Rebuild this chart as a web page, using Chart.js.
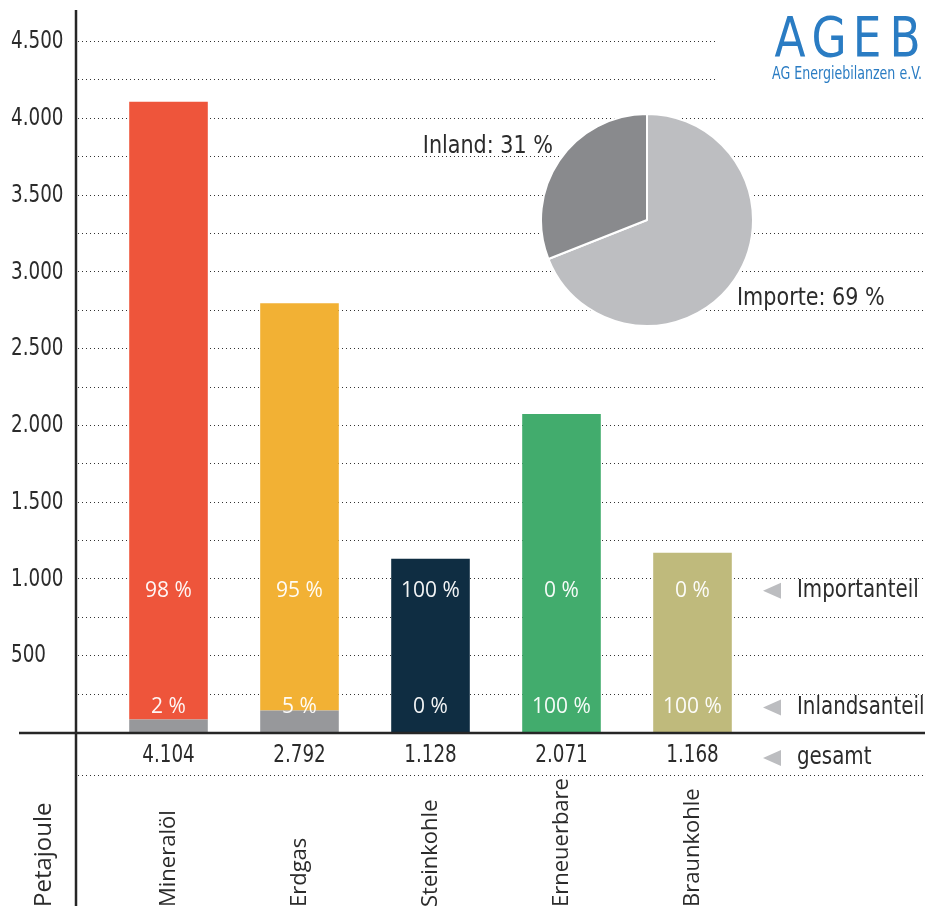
<!DOCTYPE html>
<html>
<head>
<meta charset="utf-8">
<script src="https://cdn.jsdelivr.net/npm/chart.js@4.4.1/dist/chart.umd.min.js"></script>
<style>
    html, body { margin: 0; padding: 0; background: #fff; }
    #wrap { position: relative; width: 925px; height: 906px; overflow: hidden; }
    #bar-chart { position: absolute; left: 0; top: 0; }
    #pie-box { position: absolute; left: 540px; top: 113px; width: 214px; height: 214px; }
</style>
</head>
<body>
<div id="wrap">
    <canvas id="bar-chart" width="925" height="906"></canvas>
    <div id="pie-box"><canvas id="pie-chart" width="214" height="214"></canvas></div>
</div>
<script>
// Primärenergie (Petajoule), Anteile Import / Inland
const categories = ['Mineralöl', 'Erdgas', 'Steinkohle', 'Erneuerbare', 'Braunkohle'];
const totals = [4104, 2792, 1128, 2071, 1168];
const importShare = [98, 95, 100, 0, 0];
const inlandShare = [2, 5, 0, 100, 100];
const yTicks = [500, 1000, 1500, 2000, 2500, 3000, 3500, 4000, 4500];
const yTickLabels = ['500', '1.000', '1.500', '2.000', '2.500', '3.000', '3.500', '4.000', '4.500'];
const pieLabels = ['Importe', 'Inland'];
const pieValues = [69, 31];

const barColors = ['#ee553b', '#f2b134', '#0f2d42', '#42ac6d', '#bfba7c'];
const inlandGrey = '#97989b';
const COND = '"DejaVu Sans Condensed", "DejaVu Sans", sans-serif';
const HUMAN = '"Open Sans", "Noto Sans", sans-serif';
const TEXT = '#2b2b2b';

const importValues = totals.map((t, i) => t * importShare[i] / 100);
const inlandValues = totals.map((t, i) => t * inlandShare[i] / 100);
// inland part is grey only where there is also an import part
const inlandColors = barColors.map((c, i) => importShare[i] > 0 ? inlandGrey : c);

function dotted(ctx, x1, x2, y) {
    ctx.save();
    ctx.strokeStyle = '#333';
    ctx.lineWidth = 1;
    ctx.setLineDash([1, 3]);
    ctx.beginPath();
    ctx.moveTo(x1, Math.round(y) + 0.5);
    ctx.lineTo(x2, Math.round(y) + 0.5);
    ctx.stroke();
    ctx.restore();
}

// squeezed text, the original uses a narrow DIN-like face
function sText(ctx, txt, x, y, sx, align) {
    ctx.save();
    ctx.translate(x, y);
    ctx.scale(sx, 1);
    ctx.textAlign = align;
    ctx.fillText(txt, 0, 0);
    ctx.restore();
}

function triangle(ctx, x, y) {
    ctx.fillStyle = '#bcbdc0';
    ctx.beginPath();
    ctx.moveTo(x, y);
    ctx.lineTo(x + 18, y - 8);
    ctx.lineTo(x + 18, y + 8);
    ctx.closePath();
    ctx.fill();
}

const gridPlugin = {
    id: 'grid',
    beforeDatasetsDraw(chart) {
        const ctx = chart.ctx;
        const y = chart.scales.y;
        for (let v = 250; v <= 4500; v += 250) {
            dotted(ctx, 78, v >= 4250 ? 715 : 925, y.getPixelForValue(v));
        }
    }
};

const decorPlugin = {
    id: 'decor',
    afterDatasetsDraw(chart) {
        const ctx = chart.ctx;
        const x = chart.scales.x;
        const y = chart.scales.y;
        const zeroY = y.getPixelForValue(0);

        // axes
        ctx.save();
        ctx.strokeStyle = '#262626';
        ctx.lineWidth = 2.5;
        ctx.beginPath();
        ctx.moveTo(19, zeroY + 1);
        ctx.lineTo(925, zeroY + 1);
        ctx.moveTo(76, 10);
        ctx.lineTo(76, 906);
        ctx.stroke();
        ctx.restore();

        // y tick labels
        ctx.fillStyle = TEXT;
        ctx.font = '24px ' + COND;
        ctx.textBaseline = 'middle';
        yTicks.forEach((v, i) => sText(ctx, yTickLabels[i], 11, y.getPixelForValue(v) + 1, 0.85, 'left'));

        // percentage labels inside the bars
        const impY = y.getPixelForValue(920);
        const inlY = y.getPixelForValue(160);
        ctx.fillStyle = 'rgba(255,255,255,0.95)';
        ctx.font = '21px ' + HUMAN;
        ctx.textAlign = 'center';
        categories.forEach((c, i) => {
            const cx = x.getPixelForValue(i);
            ctx.fillText(importShare[i] + ' %', cx, impY);
            ctx.fillText(inlandShare[i] + ' %', cx, inlY);
        });

        // totals row
        const totY = zeroY + 24;
        ctx.fillStyle = TEXT;
        ctx.font = '24px ' + COND;
        categories.forEach((c, i) => {
            sText(ctx, totals[i].toLocaleString('de-DE'), x.getPixelForValue(i), totY, 0.85, 'center');
        });
        dotted(ctx, 78, 925, zeroY + 43);

        // rotated category labels
        ctx.textAlign = 'left';
        const rot = (txt, cx, size) => {
            ctx.save();
            ctx.font = size + 'px ' + HUMAN;
            ctx.translate(cx, 907);
            ctx.rotate(-Math.PI / 2);
            ctx.fillText(txt, 0, 0);
            ctx.restore();
        };
        categories.forEach((c, i) => rot(c, x.getPixelForValue(i), 22));
        rot('Petajoule', 44, 24);

        // right side legend
        ctx.font = '24px ' + COND;
        [['Importanteil', impY], ['Inlandsanteil', inlY], ['gesamt', totY + 2]].forEach(([t, ty]) => {
            triangle(ctx, 763, ty);
            ctx.fillStyle = TEXT;
            sText(ctx, t, 797, ty, 0.92, 'left');
        });

        // pie labels
        ctx.font = '24px ' + COND;
        sText(ctx, pieLabels[1] + ': ' + pieValues[1] + ' %', 553, 147, 0.96, 'right');
        sText(ctx, pieLabels[0] + ': ' + pieValues[0] + ' %', 737, 299, 0.96, 'left');

        // logo
        ctx.fillStyle = '#2a7cc3';
        ctx.textBaseline = 'alphabetic';
        ctx.font = '56px ' + COND;
        ['A', 'G', 'E', 'B'].forEach((l, i) => sText(ctx, l, [790, 829, 867, 905][i], 56, 0.9, 'center'));
        ctx.font = '17px ' + COND;
        ctx.textAlign = 'left';
        ctx.fillText('AG Energiebilanzen e.V.', 772, 79, 150);
    }
};

new Chart(document.getElementById('bar-chart'), {
    type: 'bar',
    data: {
        labels: categories,
        datasets: [{
            label: 'Inland',
            data: inlandValues,
            backgroundColor: inlandColors,
            barPercentage: 0.6,
            categoryPercentage: 1
        }, {
            label: 'Import',
            data: importValues,
            backgroundColor: barColors,
            barPercentage: 0.6,
            categoryPercentage: 1
        }]
    },
    options: {
        responsive: false,
        animation: false,
        devicePixelRatio: 1,
        layout: { padding: { left: 103, right: 167, top: 41, bottom: 174 } },
        plugins: { legend: { display: false }, tooltip: { enabled: false } },
        scales: {
            x: { display: false, stacked: true, offset: true },
            y: { display: false, stacked: true, min: 0, max: 4500 }
        }
    },
    plugins: [gridPlugin, decorPlugin]
});

new Chart(document.getElementById('pie-chart'), {
    type: 'pie',
    data: {
        labels: pieLabels,
        datasets: [{
            data: pieValues,
            backgroundColor: ['#bdbec1', '#898a8d'],
            borderColor: '#ffffff',
            borderWidth: 2
        }]
    },
    options: {
        responsive: false,
        animation: false,
        devicePixelRatio: 1,
        plugins: { legend: { display: false }, tooltip: { enabled: false } }
    }
});
</script>
</body>
</html>
